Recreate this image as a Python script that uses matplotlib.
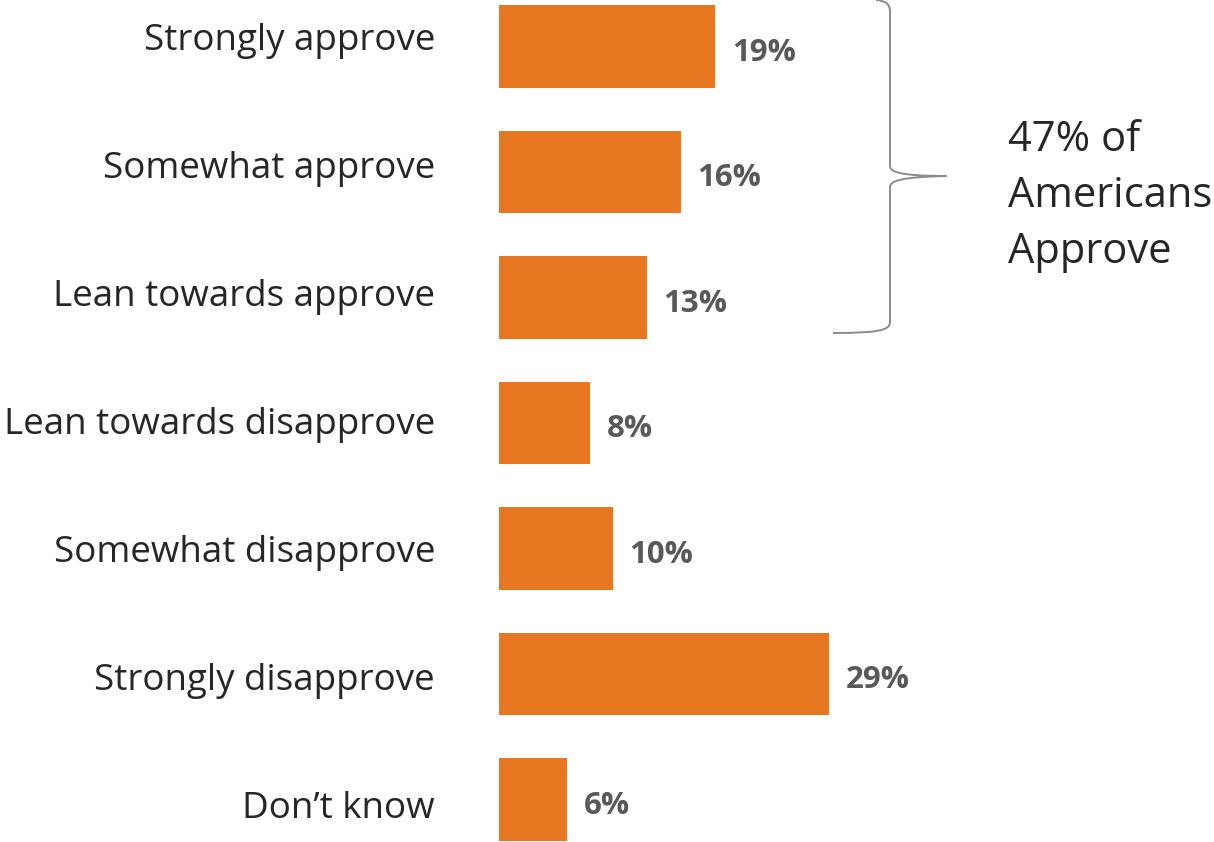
import matplotlib.pyplot as plt
from matplotlib.path import Path
from matplotlib.patches import PathPatch

plt.rcParams['font.family'] = ['Open Sans', 'DejaVu Sans']

categories = ['Strongly approve', 'Somewhat approve', 'Lean towards approve',
              'Lean towards disapprove', 'Somewhat disapprove',
              'Strongly disapprove', 'Don\u2019t know']
values = [19, 16, 13, 8, 10, 29, 6]
value_labels = ['19%', '16%', '13%', '8%', '10%', '29%', '6%']
note = '47% of\nAmericans\nApprove'

W, H = 1214, 842
fig = plt.figure(figsize=(W / 100, H / 100), dpi=100)
# axes: x=0 at pixel 499, ~11.37 px per percent
ax = fig.add_axes([499 / W, 0, 1 - 499 / W, 1])
ax.set_xlim(0, (W - 499) / 11.37)
ax.set_ylim(6.339, -0.3705)

y = range(len(categories))
ax.barh(y, values, height=0.66, color='#E87722')

for i, (v, lab) in enumerate(zip(values, value_labels)):
    ax.annotate(lab, (v, i), xytext=(12, -4.5), textcoords='offset points',
                ha='left', va='center', fontsize=22.5, fontweight='bold',
                color='#595959')

# category labels are spaced slightly wider than the bars in the original
for i, cat in enumerate(categories):
    dy = -(3.5 + 2.5 * i) * 0.72
    ax.annotate(cat, (0, i), xytext=(-46, dy), textcoords='offset points',
                ha='right', va='baseline', fontsize=26.5, color='#262626')

ax.set_yticks([])
ax.set_xticks([])
for s in ax.spines.values():
    s.set_visible(False)

# curly brace around the three approve bars (pixel coords -> figure fraction)
px = [(876, 0),
      (886, 1), (890, 4), (890, 12),
      (890, 166),
      (890, 172), (900, 176), (947, 176),
      (900, 177), (890, 181), (890, 187),
      (890, 322),
      (890, 330), (880, 333), (833, 333)]
codes = [Path.MOVETO] + [Path.CURVE4] * 3 + [Path.LINETO] + [Path.CURVE4] * 6 \
        + [Path.LINETO] + [Path.CURVE4] * 3
verts = [(x / W, 1 - yy / H) for x, yy in px]
fig.patches.append(PathPatch(Path(verts, codes), transform=fig.transFigure,
                             fill=False, edgecolor='#8c8c8c', lw=1.4))

fig.text(1008 / W, 1 - 196 / H, note, ha='left', va='center', fontsize=30,
         color='#262626', linespacing=1.45)

plt.savefig('out.png', dpi=100)
